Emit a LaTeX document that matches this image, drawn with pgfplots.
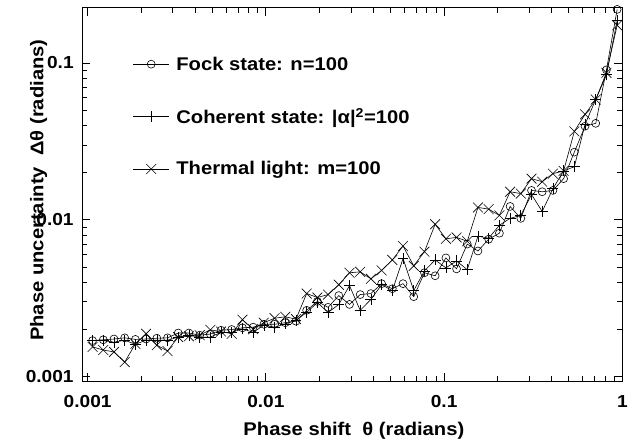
\documentclass[border=0pt]{standalone}
\usepackage{pgfplots}
\pgfplotsset{compat=1.18}
\usepackage{pgfplotstable}
\usepackage{fontspec}
\setmainfont{Liberation Sans}[FakeStretch=1.1]
\usetikzlibrary{calc}

\pgfplotstableread{
x fock coh th
0.001066 0.00170 0.00170 0.00155
0.001224 0.00172 0.00170 0.00148
0.001406 0.00174 0.00166 0.00144
0.001614 0.00177 0.00171 0.00124
0.001854 0.00173 0.00161 0.00162
0.002129 0.00174 0.00171 0.00188
0.002444 0.00176 0.00171 0.00159
0.002807 0.00177 0.00171 0.00146
0.003223 0.00190 0.00179 0.00179
0.003701 0.00190 0.00184 0.00181
0.004250 0.00184 0.00179 0.00184
0.004880 0.00187 0.00179 0.00199
0.005604 0.00198 0.00192 0.00194
0.006435 0.00200 0.00192 0.00188
0.007390 0.00205 0.00202 0.00231
0.008486 0.00207 0.00192 0.00201
0.009744 0.00216 0.00213 0.00221
0.01119 0.00216 0.00207 0.00236
0.01285 0.00221 0.00217 0.00241
0.01475 0.00226 0.00229 0.00233
0.01694 0.00265 0.00257 0.00339
0.01945 0.00302 0.00297 0.00320
0.02234 0.00277 0.00257 0.00334
0.02565 0.00329 0.00289 0.00386
0.02945 0.00289 0.00381 0.00460
0.03382 0.00334 0.00265 0.00466
0.03884 0.00339 0.00311 0.00421
0.04460 0.00392 0.00386 0.00476
0.05121 0.00364 0.00354 0.00555
0.05881 0.00392 0.00567 0.00681
0.06753 0.00324 0.00354 0.00509
0.07755 0.00460 0.00473 0.00627
0.08905 0.00440 0.00555 0.00937
0.1023 0.00572 0.00494 0.00757
0.1174 0.00487 0.00547 0.00773
0.1348 0.00701 0.00481 0.00730
0.1548 0.00633 0.00787 0.0120
0.1778 0.00753 0.00764 0.0117
0.2042 0.00822 0.00923 0.01067
0.2345 0.01217 0.01022 0.0151
0.2692 0.01022 0.01067 0.0147
0.3092 0.0154 0.0145 0.0183
0.3550 0.0151 0.0113 0.0175
0.4077 0.0154 0.0158 0.0197
0.4681 0.0183 0.0205 0.0205
0.5376 0.0270 0.0218 0.0366
0.6173 0.0395 0.0406 0.0470
0.7088 0.0412 0.0584 0.0584
0.8140 0.0903 0.0840 0.0865
0.9347 0.2193 0.1868 0.1737
}\data

\begin{document}
\begin{tikzpicture}
\begin{axis}[
  scale only axis, width=544.3bp, height=376bp,
  xmode=log, ymode=log,
  xmin=0.000931, xmax=1.0, ymin=0.000937, ymax=0.224,
  xtick={0.001,0.01,0.1,1}, xticklabels={0.001,0.01,0.1,1},
  ytick={0.001,0.01,0.1}, yticklabels={0.001,0.01,0.1},
  tick align=inside, major tick length=8bp, minor tick length=5bp,
  tick style={black, line width=0.8bp},
  axis line style={line width=1bp},
  clip=false,
  font=\fontsize{18.5bp}{22bp}\selectfont\bfseries,
  tick label style={font=\fontsize{17.5bp}{20bp}\selectfont\bfseries},
  xticklabel style={yshift=-11bp},
  yticklabel style={xshift=-5bp},
  xlabel={Phase shift\ \ θ (radians)},
  ylabel={Phase uncertainty\ \ Δθ (radians)},
  xlabel style={at={(axis description cs:0.503,-0.133)}, anchor=center},
  ylabel style={at={(axis description cs:-0.0803,0.512)}, anchor=center},
  legend style={at={(axis description cs:0.094,0.875)}, anchor=north west,
    draw=none, fill=none, inner sep=0pt, row sep=33bp, column sep=5bp,
    font=\fontsize{18.5bp}{22bp}\selectfont\bfseries},
  legend cell align=left,
  legend image code/.code={\draw[mark repeat=2,mark phase=2,#1] plot coordinates {(0bp,0bp) (18bp,0bp) (36bp,0bp)};},
]
\addplot[black, line width=0.6bp, mark=o, mark size=4bp] table[x=x,y=fock]{\data};
\addlegendentry{Fock state: n=100}
\addplot[black, line width=0.6bp, mark=+, mark size=5.5bp] table[x=x,y=coh]{\data};
\addlegendentry{Coherent state: |α|\textsuperscript{2}=100}
\addplot[black, line width=0.6bp, mark=x, mark size=7bp] table[x=x,y=th]{\data};
\addlegendentry{Thermal light: m=100}
\end{axis}
\path ($(current axis.south west)+(-82.7bp,-67bp)$) rectangle ($(current axis.north east)+(4bp,8bp)$);
\end{tikzpicture}
\end{document}
